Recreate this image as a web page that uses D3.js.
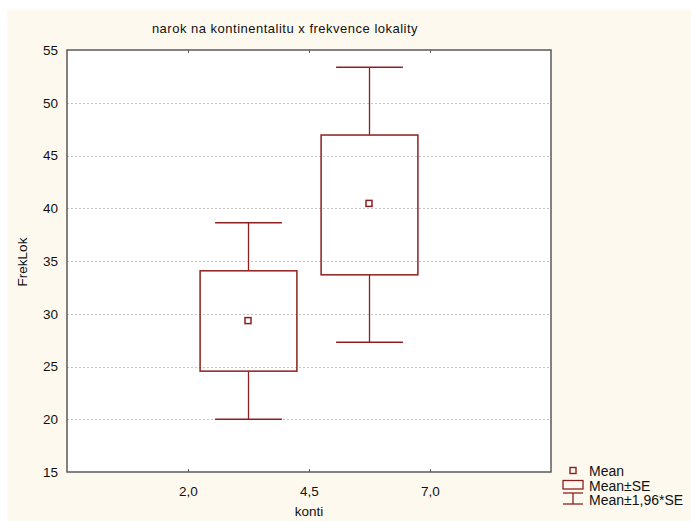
<!DOCTYPE html>
<html>
<head>
<meta charset="utf-8">
<script src="https://cdn.jsdelivr.net/npm/d3@7"></script>
<style>
  html, body { margin: 0; padding: 0; background: #fff; }
  svg text { font-family: "Liberation Sans", Arial, sans-serif; fill: #111; }
</style>
</head>
<body>
<div id="chart"></div>
<script>
// data
const groups = ["2,0 - 4,5", "4,5 - 7,0"]
const groupX = [3.25, 5.75]
const means = [29.35, 40.46]
const seLow = [24.56, 33.69]
const seHigh = [34.07, 46.94]
const ciLow = [20.0, 27.3]
const ciHigh = [38.63, 53.36]

const xTicks = [2.0, 4.5, 7.0]
const yTicks = [15, 20, 25, 30, 35, 40, 45, 50, 55]
const legendItems = ["Mean", "Mean±SE", "Mean±1,96*SE"]

const title = "narok na kontinentalitu x frekvence lokality"
const xTitle = "konti"
const yTitle = "FrekLok"

const config = {
  width: 691,
  height: 521,
  margin: { top: 50, right: 140, bottom: 49, left: 67 },
  boxColor: "#8e1f1f",
  frameColor: "#5a5a5a",
  background: "#fef9ee"
}

const plotW = config.width - config.margin.left - config.margin.right
const plotH = config.height - config.margin.top - config.margin.bottom

const svg = d3.select("#chart").append("svg")
  .attr("width", config.width)
  .attr("height", config.height)

svg.append("rect")
  .attr("x", 7).attr("y", 10)
  .attr("width", config.width - 7).attr("height", config.height - 10)
  .attr("fill", config.background)

const g = svg.append("g")
  .attr("transform", `translate(${config.margin.left},${config.margin.top})`)

const x = d3.scaleLinear().domain([-0.5, 9.5]).range([0, plotW])
const y = d3.scaleLinear().domain([15, 55]).range([plotH, 0])

g.append("rect")
  .attr("width", plotW).attr("height", plotH)
  .attr("fill", "#fff")

// dotted grid
g.append("g")
  .selectAll("line")
  .data(yTicks.filter(d => d > 15 && d < 55))
  .join("line")
  .attr("x1", 0).attr("x2", plotW)
  .attr("y1", d => Math.round(y(d)) + 0.5).attr("y2", d => Math.round(y(d)) + 0.5)
  .attr("stroke", "#c4c4c4")
  .attr("stroke-dasharray", "2,2")

const fmt = d => d3.format(".1f")(d).replace(".", ",")

// axes with inner ticks
const xAxis = g.append("g")
  .attr("transform", `translate(0,${plotH})`)
  .call(d3.axisBottom(x).tickValues(xTicks).tickSizeInner(-3).tickSizeOuter(0).tickPadding(14).tickFormat(fmt))
const xAxisTop = g.append("g")
  .call(d3.axisTop(x).tickValues(xTicks).tickSizeInner(-3).tickSizeOuter(0).tickFormat(""))
const yAxis = g.append("g")
  .call(d3.axisLeft(y).tickValues(yTicks).tickSizeInner(0).tickSizeOuter(0).tickPadding(9))

for (const axis of [xAxis, xAxisTop, yAxis]) {
  axis.select(".domain").remove()
  axis.selectAll(".tick line").attr("stroke", config.frameColor)
  axis.selectAll("text")
    .style("font-family", "Liberation Sans, Arial, sans-serif")
    .style("font-size", "13.5px")
    .attr("fill", "#111")
}

// boxes
const boxHalf = 1.0
const capHalf = 0.69
const items = groups.map((name, i) => ({
  name, x: groupX[i], mean: means[i], seLow: seLow[i], seHigh: seHigh[i], ciLow: ciLow[i], ciHigh: ciHigh[i]
}))

const boxes = g.append("g").selectAll("g")
  .data(items)
  .join("g")
  .attr("stroke", config.boxColor)
  .attr("fill", "none")

boxes.append("line")
  .attr("x1", d => x(d.x)).attr("x2", d => x(d.x))
  .attr("y1", d => y(d.ciHigh)).attr("y2", d => y(d.seHigh))
  .attr("stroke-width", 1.3)
boxes.append("line")
  .attr("x1", d => x(d.x)).attr("x2", d => x(d.x))
  .attr("y1", d => y(d.seLow)).attr("y2", d => y(d.ciLow))
  .attr("stroke-width", 1.3)
boxes.selectAll(".cap")
  .data(d => [d.ciHigh, d.ciLow].map(v => ({ x: d.x, v })))
  .join("line")
  .attr("class", "cap")
  .attr("x1", d => x(d.x - capHalf)).attr("x2", d => x(d.x + capHalf))
  .attr("y1", d => y(d.v)).attr("y2", d => y(d.v))
  .attr("stroke-width", 1.5)
boxes.append("rect")
  .attr("x", d => x(d.x - boxHalf))
  .attr("y", d => y(d.seHigh))
  .attr("width", d => x(d.x + boxHalf) - x(d.x - boxHalf))
  .attr("height", d => y(d.seLow) - y(d.seHigh))
  .attr("stroke-width", 1.5)
boxes.append("rect")
  .attr("x", d => x(d.x) - 3.5)
  .attr("y", d => y(d.mean) - 3)
  .attr("width", 6).attr("height", 6)
  .attr("stroke-width", 1.5)

// frame
g.append("rect")
  .attr("width", plotW).attr("height", plotH)
  .attr("fill", "none")
  .attr("stroke", config.frameColor)
  .attr("stroke-width", 1.5)

// titles
svg.append("text")
  .attr("x", 285).attr("y", 33)
  .attr("text-anchor", "middle")
  .style("font-size", "13px")
  .style("letter-spacing", "0.5px")
  .text(title)

svg.append("text")
  .attr("x", config.margin.left + plotW / 2).attr("y", 516)
  .attr("text-anchor", "middle")
  .style("font-size", "13.5px")
  .text(xTitle)

svg.append("text")
  .attr("transform", `translate(27,262) rotate(-90)`)
  .attr("text-anchor", "middle")
  .style("font-size", "13.5px")
  .text(yTitle)

// legend
const legend = svg.append("g").attr("transform", "translate(563,471)")
const rowH = 14.5
const lg = legend.selectAll("g")
  .data(legendItems)
  .join("g")
  .attr("transform", (d, i) => `translate(0,${i * rowH})`)

lg.append("text")
  .attr("x", 26).attr("y", 5)
  .style("font-size", "14px")
  .text(d => d)

lg.filter((d, i) => i === 0).append("rect")
  .attr("x", 7).attr("y", -3.5).attr("width", 6).attr("height", 6)
  .attr("fill", "none").attr("stroke", config.boxColor).attr("stroke-width", 1.4)
lg.filter((d, i) => i === 1).append("rect")
  .attr("x", 0).attr("y", -5).attr("width", 20).attr("height", 8.5)
  .attr("fill", "none").attr("stroke", config.boxColor).attr("stroke-width", 1.3)
const wl = lg.filter((d, i) => i === 2).append("g")
  .attr("stroke", config.boxColor).attr("stroke-width", 1.3)
wl.append("line").attr("x1", 0).attr("x2", 20).attr("y1", -7).attr("y2", -7)
wl.append("line").attr("x1", 0).attr("x2", 20).attr("y1", 4).attr("y2", 4)
wl.append("line").attr("x1", 10).attr("x2", 10).attr("y1", -7).attr("y2", 4)
</script>
</body>
</html>
